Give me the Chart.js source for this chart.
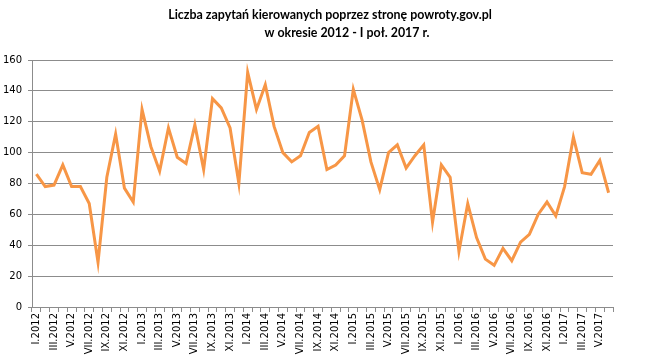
<!DOCTYPE html>
<html>
<head>
<meta charset="utf-8">
<script src="https://cdn.jsdelivr.net/npm/chart.js@4.4.1/dist/chart.umd.min.js"></script>
<style>
	html, body { margin: 0; padding: 0; background: #fff; }
	#wrap { width: 645px; height: 361px; position: relative; }
</style>
</head>
<body>
<div id="wrap"><canvas id="chart"></canvas></div>
<script>
const months = ['I', 'II', 'III', 'IV', 'V', 'VI', 'VII', 'VIII', 'IX', 'X', 'XI', 'XII'];
const years = [2012, 2013, 2014, 2015, 2016, 2017];

// I.2012 ... VI.2017
const categories = [];
for (const y of years)
	for (const m of months)
		if (!(y == 2017 && months.indexOf(m) > 5))
			categories.push(m + '.' + y);

const queries = [
	86, 78, 79, 92, 78, 78, 67, 29, 84, 112, 77, 68,
	128, 104, 88, 116, 97, 93, 118, 89, 135, 129, 116, 80,
	152, 128, 144, 117, 100, 94, 98, 113, 117, 89, 92, 98,
	141, 121, 94, 76, 100, 105, 90, 98, 105, 55, 92, 84,
	36, 67, 45, 31, 27, 38, 30, 42, 47, 60, 68, 59,
	78, 110, 87, 86, 95, 74
];

const titleLines = [
	'Liczba zapytań kierowanych poprzez stronę powroty.gov.pl',
	'w okresie 2012 - I poł. 2017 r.'
];

const lineColor = '#f79646';
const gridColor = '#8c8c8c';
const tickFont = { family: 'DejaVu Sans', size: 10 };

const titlePlugin = {
	id: 'excelTitle',
	afterDraw: (chart) => {
		const ctx = chart.ctx;
		ctx.save();
		ctx.fillStyle = '#000';
		ctx.font = 'bold 12.4px Lato';
		ctx.textAlign = 'center';
		ctx.textBaseline = 'middle';
		ctx.fillText(titleLines[0], 330, 15);
		ctx.fillText(titleLines[1], 347, 33);
		ctx.restore();
	}
};

new Chart(document.getElementById('chart'), {
	type: 'line',
	data: {
		labels: categories,
		datasets: [{
			data: queries,
			borderColor: lineColor,
			borderWidth: 3,
			tension: 0,
			pointRadius: 0,
			fill: false
		}]
	},
	options: {
		responsive: true,
		maintainAspectRatio: false,
		animation: false,
		layout: { padding: { top: 60, right: 32, left: 0, bottom: 0 } },
		plugins: {
			legend: { display: false },
			tooltip: { enabled: false }
		},
		scales: {
			x: {
				offset: true,
				afterFit: (scale) => { scale.height = 54; },
				border: { color: gridColor, width: 1 },
				grid: {
					offset: true,
					drawOnChartArea: false,
					drawTicks: true,
					tickLength: 5,
					color: gridColor
				},
				ticks: {
					autoSkip: false,
					maxRotation: 90,
					minRotation: 90,
					padding: 1,
					color: '#000',
					font: tickFont,
					callback: function (value, index) {
						return index % 2 == 0 ? this.getLabelForValue(value) : '';
					}
				}
			},
			y: {
				min: 0,
				max: 160,
				afterFit: (scale) => { scale.width = 32; },
				border: { color: gridColor, width: 1 },
				grid: {
					color: gridColor,
					tickLength: 4
				},
				ticks: {
					stepSize: 20,
					padding: 6,
					color: '#000',
					font: tickFont
				}
			}
		}
	},
	plugins: [titlePlugin]
});
</script>
</body>
</html>
